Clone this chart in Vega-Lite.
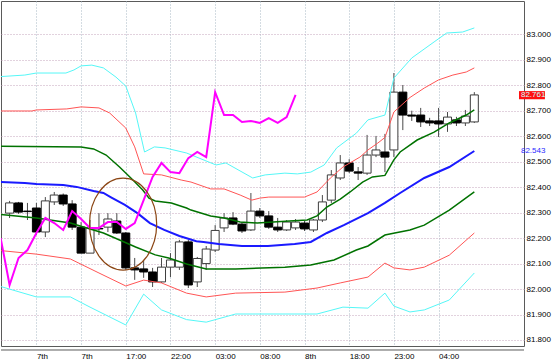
{
  "$schema": "https://vega.github.io/schema/vega-lite/v6.json",
  "width": 523,
  "height": 345,
  "autosize": {"type": "none"},
  "padding": {"left": 1, "top": 1, "right": 30, "bottom": 16},
  "background": "white",
  "config": {
    "view": {"stroke": "#5a5a5a", "strokeWidth": 1},
    "axis": {"labelFont": "Liberation Sans", "labelFontSize": 8, "labelColor": "#000000", "ticks": false, "domain": false, "gridDash": [1, 2], "gridWidth": 1, "labelOverlap": false, "labelFlush": false}
  },
  "datasets": {
    "candles": [
      {"t": -3, "open": 82.298, "high": 82.346, "low": 82.279, "close": 82.338},
      {"t": -2, "open": 82.338, "high": 82.342, "low": 82.295, "close": 82.302},
      {"t": -1, "open": 82.306, "high": 82.338, "low": 82.271, "close": 82.304},
      {"t": 0, "open": 82.318, "high": 82.338, "low": 82.212, "close": 82.224},
      {"t": 1, "open": 82.224, "high": 82.361, "low": 82.204, "close": 82.346},
      {"t": 2, "open": 82.342, "high": 82.381, "low": 82.330, "close": 82.369},
      {"t": 3, "open": 82.369, "high": 82.375, "low": 82.326, "close": 82.334},
      {"t": 4, "open": 82.334, "high": 82.349, "low": 82.232, "close": 82.243},
      {"t": 5, "open": 82.243, "high": 82.263, "low": 82.141, "close": 82.141},
      {"t": 6, "open": 82.141, "high": 82.271, "low": 82.141, "close": 82.240},
      {"t": 7, "open": 82.238, "high": 82.298, "low": 82.212, "close": 82.236},
      {"t": 8, "open": 82.243, "high": 82.298, "low": 82.224, "close": 82.275},
      {"t": 9, "open": 82.267, "high": 82.298, "low": 82.216, "close": 82.220},
      {"t": 10, "open": 82.220, "high": 82.224, "low": 82.075, "close": 82.083},
      {"t": 11, "open": 82.083, "high": 82.122, "low": 82.036, "close": 82.075},
      {"t": 12, "open": 82.079, "high": 82.114, "low": 82.044, "close": 82.067},
      {"t": 13, "open": 82.067, "high": 82.083, "low": 82.008, "close": 82.028},
      {"t": 14, "open": 82.028, "high": 82.122, "low": 82.024, "close": 82.086},
      {"t": 15, "open": 82.086, "high": 82.141, "low": 82.047, "close": 82.114},
      {"t": 16, "open": 82.086, "high": 82.193, "low": 82.075, "close": 82.185},
      {"t": 17, "open": 82.185, "high": 82.193, "low": 82.004, "close": 82.016},
      {"t": 18, "open": 82.028, "high": 82.126, "low": 82.008, "close": 82.120},
      {"t": 19, "open": 82.100, "high": 82.169, "low": 82.075, "close": 82.157},
      {"t": 20, "open": 82.153, "high": 82.251, "low": 82.145, "close": 82.230},
      {"t": 21, "open": 82.240, "high": 82.298, "low": 82.224, "close": 82.279},
      {"t": 22, "open": 82.279, "high": 82.302, "low": 82.251, "close": 82.255},
      {"t": 23, "open": 82.255, "high": 82.263, "low": 82.220, "close": 82.228},
      {"t": 24, "open": 82.232, "high": 82.377, "low": 82.228, "close": 82.306},
      {"t": 25, "open": 82.306, "high": 82.318, "low": 82.279, "close": 82.287},
      {"t": 26, "open": 82.287, "high": 82.306, "low": 82.236, "close": 82.243},
      {"t": 27, "open": 82.243, "high": 82.279, "low": 82.224, "close": 82.232},
      {"t": 28, "open": 82.232, "high": 82.271, "low": 82.228, "close": 82.263},
      {"t": 29, "open": 82.240, "high": 82.275, "low": 82.232, "close": 82.263},
      {"t": 30, "open": 82.259, "high": 82.267, "low": 82.228, "close": 82.236},
      {"t": 31, "open": 82.232, "high": 82.275, "low": 82.224, "close": 82.271},
      {"t": 32, "open": 82.271, "high": 82.369, "low": 82.263, "close": 82.342},
      {"t": 33, "open": 82.349, "high": 82.467, "low": 82.338, "close": 82.448},
      {"t": 34, "open": 82.436, "high": 82.526, "low": 82.428, "close": 82.495},
      {"t": 35, "open": 82.495, "high": 82.510, "low": 82.455, "close": 82.463},
      {"t": 36, "open": 82.460, "high": 82.479, "low": 82.428, "close": 82.455},
      {"t": 37, "open": 82.455, "high": 82.605, "low": 82.448, "close": 82.526},
      {"t": 38, "open": 82.526, "high": 82.601, "low": 82.518, "close": 82.546},
      {"t": 39, "open": 82.538, "high": 82.609, "low": 82.459, "close": 82.518},
      {"t": 40, "open": 82.546, "high": 82.848, "low": 82.518, "close": 82.773},
      {"t": 41, "open": 82.773, "high": 82.801, "low": 82.624, "close": 82.683},
      {"t": 42, "open": 82.683, "high": 82.700, "low": 82.660, "close": 82.679},
      {"t": 43, "open": 82.683, "high": 82.711, "low": 82.636, "close": 82.656},
      {"t": 44, "open": 82.660, "high": 82.672, "low": 82.640, "close": 82.652},
      {"t": 45, "open": 82.660, "high": 82.711, "low": 82.597, "close": 82.648},
      {"t": 46, "open": 82.648, "high": 82.695, "low": 82.617, "close": 82.675},
      {"t": 47, "open": 82.664, "high": 82.676, "low": 82.640, "close": 82.652},
      {"t": 48, "open": 82.652, "high": 82.703, "low": 82.640, "close": 82.679},
      {"t": 49, "open": 82.656, "high": 82.773, "low": 82.652, "close": 82.762}
    ],
    "thin": [
      {"s": "u3", "t": -4, "v": 82.834}, {"s": "u3", "t": -1.3, "v": 82.840}, {"s": "u3", "t": 0, "v": 82.848}, {"s": "u3", "t": 3.3, "v": 82.848}, {"s": "u3", "t": 4.2, "v": 82.860}, {"s": "u3", "t": 5, "v": 82.876}, {"s": "u3", "t": 6.2, "v": 82.879}, {"s": "u3", "t": 7.5, "v": 82.868}, {"s": "u3", "t": 8.9, "v": 82.832}, {"s": "u3", "t": 10, "v": 82.797}, {"s": "u3", "t": 11.1, "v": 82.691}, {"s": "u3", "t": 12.1, "v": 82.538}, {"s": "u3", "t": 13.2, "v": 82.558}, {"s": "u3", "t": 14.4, "v": 82.554}, {"s": "u3", "t": 16.8, "v": 82.534}, {"s": "u3", "t": 20.1, "v": 82.487}, {"s": "u3", "t": 21.2, "v": 82.495}, {"s": "u3", "t": 24.2, "v": 82.436}, {"s": "u3", "t": 25.6, "v": 82.448}, {"s": "u3", "t": 27.8, "v": 82.455}, {"s": "u3", "t": 29.2, "v": 82.452}, {"s": "u3", "t": 30.7, "v": 82.459}, {"s": "u3", "t": 32.2, "v": 82.487}, {"s": "u3", "t": 33.6, "v": 82.554}, {"s": "u3", "t": 35.8, "v": 82.612}, {"s": "u3", "t": 37.1, "v": 82.664}, {"s": "u3", "t": 39, "v": 82.683}, {"s": "u3", "t": 40, "v": 82.828}, {"s": "u3", "t": 42, "v": 82.907}, {"s": "u3", "t": 44.5, "v": 82.970}, {"s": "u3", "t": 45.9, "v": 83.005}, {"s": "u3", "t": 47.7, "v": 83.009}, {"s": "u3", "t": 49, "v": 83.025},
      {"s": "u2", "t": -4, "v": 82.699}, {"s": "u2", "t": -0.5, "v": 82.699}, {"s": "u2", "t": 0, "v": 82.703}, {"s": "u2", "t": 3.4, "v": 82.707}, {"s": "u2", "t": 5, "v": 82.715}, {"s": "u2", "t": 7, "v": 82.711}, {"s": "u2", "t": 8.2, "v": 82.691}, {"s": "u2", "t": 10, "v": 82.632}, {"s": "u2", "t": 11, "v": 82.558}, {"s": "u2", "t": 12, "v": 82.452}, {"s": "u2", "t": 14, "v": 82.448}, {"s": "u2", "t": 16.2, "v": 82.428}, {"s": "u2", "t": 17.3, "v": 82.420}, {"s": "u2", "t": 19.5, "v": 82.393}, {"s": "u2", "t": 21, "v": 82.393}, {"s": "u2", "t": 22.8, "v": 82.369}, {"s": "u2", "t": 24.1, "v": 82.349}, {"s": "u2", "t": 25, "v": 82.357}, {"s": "u2", "t": 26, "v": 82.361}, {"s": "u2", "t": 30, "v": 82.361}, {"s": "u2", "t": 31.4, "v": 82.381}, {"s": "u2", "t": 32.9, "v": 82.436}, {"s": "u2", "t": 34.3, "v": 82.479}, {"s": "u2", "t": 36.2, "v": 82.518}, {"s": "u2", "t": 37.1, "v": 82.546}, {"s": "u2", "t": 38.2, "v": 82.573}, {"s": "u2", "t": 39, "v": 82.595}, {"s": "u2", "t": 40, "v": 82.695}, {"s": "u2", "t": 41.8, "v": 82.752}, {"s": "u2", "t": 43.4, "v": 82.789}, {"s": "u2", "t": 45, "v": 82.821}, {"s": "u2", "t": 46.6, "v": 82.840}, {"s": "u2", "t": 48.1, "v": 82.852}, {"s": "u2", "t": 49, "v": 82.868},
      {"s": "l2", "t": -4, "v": 82.151}, {"s": "l2", "t": 0, "v": 82.137}, {"s": "l2", "t": 3.8, "v": 82.118}, {"s": "l2", "t": 7, "v": 82.063}, {"s": "l2", "t": 10, "v": 82.012}, {"s": "l2", "t": 12, "v": 82.035}, {"s": "l2", "t": 14, "v": 82.024}, {"s": "l2", "t": 16.8, "v": 81.984}, {"s": "l2", "t": 19, "v": 81.969}, {"s": "l2", "t": 22.3, "v": 81.984}, {"s": "l2", "t": 27.8, "v": 81.988}, {"s": "l2", "t": 31.4, "v": 82.004}, {"s": "l2", "t": 34, "v": 82.024}, {"s": "l2", "t": 37.1, "v": 82.047}, {"s": "l2", "t": 39, "v": 82.102}, {"s": "l2", "t": 40, "v": 82.083}, {"s": "l2", "t": 41.8, "v": 82.075}, {"s": "l2", "t": 43.4, "v": 82.086}, {"s": "l2", "t": 46.2, "v": 82.133}, {"s": "l2", "t": 49, "v": 82.220},
      {"s": "l3", "t": -4, "v": 82.010}, {"s": "l3", "t": 0, "v": 81.969}, {"s": "l3", "t": 3.8, "v": 81.969}, {"s": "l3", "t": 6, "v": 81.929}, {"s": "l3", "t": 10, "v": 81.859}, {"s": "l3", "t": 12, "v": 81.980}, {"s": "l3", "t": 14, "v": 81.918}, {"s": "l3", "t": 16.8, "v": 81.880}, {"s": "l3", "t": 19, "v": 81.870}, {"s": "l3", "t": 22.3, "v": 81.902}, {"s": "l3", "t": 31.4, "v": 81.902}, {"s": "l3", "t": 34.3, "v": 81.929}, {"s": "l3", "t": 37.1, "v": 81.925}, {"s": "l3", "t": 39, "v": 81.984}, {"s": "l3", "t": 40, "v": 81.933}, {"s": "l3", "t": 41.8, "v": 81.910}, {"s": "l3", "t": 43.4, "v": 81.918}, {"s": "l3", "t": 46.2, "v": 81.957}, {"s": "l3", "t": 49, "v": 82.063}
    ],
    "green": [
      {"s": "u1", "t": -4, "v": 82.561}, {"s": "u1", "t": 5, "v": 82.558}, {"s": "u1", "t": 6.4, "v": 82.550}, {"s": "u1", "t": 7.8, "v": 82.526}, {"s": "u1", "t": 9.3, "v": 82.479}, {"s": "u1", "t": 10.8, "v": 82.428}, {"s": "u1", "t": 11.9, "v": 82.389}, {"s": "u1", "t": 12.6, "v": 82.357}, {"s": "u1", "t": 13.3, "v": 82.346}, {"s": "u1", "t": 15.1, "v": 82.338}, {"s": "u1", "t": 16.8, "v": 82.318}, {"s": "u1", "t": 17.3, "v": 82.310}, {"s": "u1", "t": 19.5, "v": 82.287}, {"s": "u1", "t": 21, "v": 82.279}, {"s": "u1", "t": 22.8, "v": 82.263}, {"s": "u1", "t": 24.7, "v": 82.259}, {"s": "u1", "t": 28.3, "v": 82.267}, {"s": "u1", "t": 30.3, "v": 82.271}, {"s": "u1", "t": 31.4, "v": 82.287}, {"s": "u1", "t": 32.5, "v": 82.322}, {"s": "u1", "t": 34, "v": 82.353}, {"s": "u1", "t": 35.1, "v": 82.381}, {"s": "u1", "t": 36.5, "v": 82.420}, {"s": "u1", "t": 37.6, "v": 82.440}, {"s": "u1", "t": 39, "v": 82.446}, {"s": "u1", "t": 40, "v": 82.507}, {"s": "u1", "t": 40.7, "v": 82.538}, {"s": "u1", "t": 42.6, "v": 82.585}, {"s": "u1", "t": 44.5, "v": 82.616}, {"s": "u1", "t": 46.2, "v": 82.652}, {"s": "u1", "t": 48.1, "v": 82.683}, {"s": "u1", "t": 49, "v": 82.703},
      {"s": "l1", "t": -4, "v": 82.293}, {"s": "l1", "t": 0, "v": 82.279}, {"s": "l1", "t": 3.8, "v": 82.259}, {"s": "l1", "t": 7.5, "v": 82.220}, {"s": "l1", "t": 11.1, "v": 82.165}, {"s": "l1", "t": 13.3, "v": 82.134}, {"s": "l1", "t": 14.8, "v": 82.122}, {"s": "l1", "t": 16.8, "v": 82.098}, {"s": "l1", "t": 19, "v": 82.079}, {"s": "l1", "t": 22.3, "v": 82.079}, {"s": "l1", "t": 27.8, "v": 82.086}, {"s": "l1", "t": 30.7, "v": 82.094}, {"s": "l1", "t": 33.3, "v": 82.114}, {"s": "l1", "t": 35.8, "v": 82.153}, {"s": "l1", "t": 37.1, "v": 82.169}, {"s": "l1", "t": 39, "v": 82.212}, {"s": "l1", "t": 40.1, "v": 82.220}, {"s": "l1", "t": 41.8, "v": 82.232}, {"s": "l1", "t": 43.4, "v": 82.251}, {"s": "l1", "t": 46.2, "v": 82.310}, {"s": "l1", "t": 49, "v": 82.381}
    ],
    "mid": [
      {"s": "mid", "t": -4, "v": 82.420}, {"s": "mid", "t": -1.3, "v": 82.416}, {"s": "mid", "t": 0, "v": 82.412}, {"s": "mid", "t": 3, "v": 82.408}, {"s": "mid", "t": 4.5, "v": 82.401}, {"s": "mid", "t": 6.4, "v": 82.385}, {"s": "mid", "t": 7.5, "v": 82.377}, {"s": "mid", "t": 8.3, "v": 82.361}, {"s": "mid", "t": 9.9, "v": 82.330}, {"s": "mid", "t": 11.3, "v": 82.298}, {"s": "mid", "t": 12.7, "v": 82.259}, {"s": "mid", "t": 14.3, "v": 82.232}, {"s": "mid", "t": 16, "v": 82.208}, {"s": "mid", "t": 17.9, "v": 82.188}, {"s": "mid", "t": 18.7, "v": 82.185}, {"s": "mid", "t": 20.4, "v": 82.177}, {"s": "mid", "t": 23, "v": 82.169}, {"s": "mid", "t": 25.9, "v": 82.169}, {"s": "mid", "t": 28.9, "v": 82.177}, {"s": "mid", "t": 30.7, "v": 82.185}, {"s": "mid", "t": 32.5, "v": 82.220}, {"s": "mid", "t": 34.4, "v": 82.251}, {"s": "mid", "t": 37.1, "v": 82.298}, {"s": "mid", "t": 39, "v": 82.338}, {"s": "mid", "t": 40.7, "v": 82.377}, {"s": "mid", "t": 43.4, "v": 82.436}, {"s": "mid", "t": 46.2, "v": 82.479}, {"s": "mid", "t": 49, "v": 82.542}
    ],
    "chikou": [
      {"s": "chikou", "t": -4, "v": 82.200}, {"s": "chikou", "t": -3, "v": 82.016}, {"s": "chikou", "t": -2, "v": 82.122}, {"s": "chikou", "t": -1, "v": 82.153}, {"s": "chikou", "t": 0, "v": 82.220}, {"s": "chikou", "t": 1, "v": 82.279}, {"s": "chikou", "t": 2, "v": 82.259}, {"s": "chikou", "t": 3, "v": 82.232}, {"s": "chikou", "t": 4, "v": 82.306}, {"s": "chikou", "t": 5, "v": 82.275}, {"s": "chikou", "t": 6, "v": 82.240}, {"s": "chikou", "t": 7, "v": 82.240}, {"s": "chikou", "t": 8, "v": 82.263}, {"s": "chikou", "t": 9, "v": 82.263}, {"s": "chikou", "t": 10, "v": 82.236}, {"s": "chikou", "t": 11, "v": 82.259}, {"s": "chikou", "t": 12, "v": 82.349}, {"s": "chikou", "t": 13, "v": 82.440}, {"s": "chikou", "t": 14, "v": 82.495}, {"s": "chikou", "t": 15, "v": 82.459}, {"s": "chikou", "t": 16, "v": 82.455}, {"s": "chikou", "t": 17, "v": 82.514}, {"s": "chikou", "t": 18, "v": 82.538}, {"s": "chikou", "t": 19, "v": 82.518}, {"s": "chikou", "t": 20, "v": 82.773}, {"s": "chikou", "t": 21, "v": 82.683}, {"s": "chikou", "t": 22, "v": 82.683}, {"s": "chikou", "t": 23, "v": 82.656}, {"s": "chikou", "t": 24, "v": 82.660}, {"s": "chikou", "t": 25, "v": 82.652}, {"s": "chikou", "t": 26, "v": 82.671}, {"s": "chikou", "t": 27, "v": 82.652}, {"s": "chikou", "t": 28, "v": 82.675}, {"s": "chikou", "t": 29, "v": 82.762}
    ],
    "one": [{}]
  },
  "layer": [
    {
      "data": {"name": "candles"},
      "mark": {"type": "rule", "color": "#4a4a4a", "strokeWidth": 1, "clip": true},
      "encoding": {
        "x": {"field": "t", "type": "quantitative", "title": null,
          "scale": {"domain": [-3.402, 54.0], "nice": false, "zero": false},
          "axis": {"orient": "bottom", "values": [0, 5, 10, 15, 20, 25, 30, 35, 40, 45], "tickCount": 30,
            "labelExpr": "['7th','7th','17:00','22:00','03:00','08:00','8th','18:00','23:00','04:00'][round(datum.value/5)]",
            "labelAlign": "left", "labelBaseline": "top", "labelPadding": 6, "grid": true, "gridColor": "#a8b8c4",
            "labelFlush": false, "labelOverlap": false}},
        "y": {"field": "low", "type": "quantitative", "title": null,
          "scale": {"domain": [81.7764, 83.1307], "nice": false, "zero": false},
          "axis": {"orient": "right", "values": [81.8, 81.9, 82.0, 82.1, 82.2, 82.3, 82.4, 82.5, 82.6, 82.7, 82.8, 82.9, 83.0], "tickCount": 30,
            "format": ".3f", "labelPadding": 2, "grid": true, "gridColor": "#c4a4bc", "labelFlush": false, "labelOverlap": false, "labelBaseline": "middle"}},
        "y2": {"field": "high"}
      }
    },
    {
      "data": {"name": "candles"},
      "mark": {"type": "bar", "size": 8, "strokeWidth": 1, "clip": true},
      "encoding": {
        "x": {"field": "t", "type": "quantitative", "title": null},
        "y": {"field": "open", "type": "quantitative", "title": null},
        "y2": {"field": "close"},
        "fill": {"condition": {"test": "datum.close >= datum.open", "value": "#ffffff"}, "value": "#000000"},
        "stroke": {"condition": {"test": "datum.close >= datum.open", "value": "#3c3c3c"}, "value": "#000000"}
      }
    },
    {
      "data": {"name": "thin"},
      "mark": {"type": "line", "strokeWidth": 1, "clip": true},
      "encoding": {
        "x": {"field": "t", "type": "quantitative", "title": null},
        "y": {"field": "v", "type": "quantitative", "title": null},
        "color": {"field": "s", "type": "nominal", "legend": null,
          "scale": {"domain": ["u3", "u2", "u1", "mid", "l1", "l2", "l3", "chikou"], "range": ["#55f7f7", "#ff5555", "#007200", "#1a1aff", "#007200", "#ff5555", "#55f7f7", "#ff00ff"]}}
      }
    },
    {
      "data": {"name": "green"},
      "mark": {"type": "line", "strokeWidth": 1.5, "clip": true},
      "encoding": {
        "x": {"field": "t", "type": "quantitative", "title": null},
        "y": {"field": "v", "type": "quantitative", "title": null},
        "color": {"field": "s", "type": "nominal", "legend": null}
      }
    },
    {
      "data": {"name": "mid"},
      "mark": {"type": "line", "strokeWidth": 2, "clip": true},
      "encoding": {
        "x": {"field": "t", "type": "quantitative", "title": null},
        "y": {"field": "v", "type": "quantitative", "title": null},
        "color": {"field": "s", "type": "nominal", "legend": null}
      }
    },
    {
      "data": {"name": "chikou"},
      "mark": {"type": "line", "strokeWidth": 2, "clip": true},
      "encoding": {
        "x": {"field": "t", "type": "quantitative", "title": null},
        "y": {"field": "v", "type": "quantitative", "title": null},
        "color": {"field": "s", "type": "nominal", "legend": null}
      }
    },
    {
      "data": {"values": [{"t": 9.7, "v": 82.255}]},
      "mark": {"type": "point", "shape": "M 0 -1 C 0.4027 -1 0.73 -0.5523 0.73 0 C 0.73 0.5523 0.4027 1 0 1 C -0.4027 1 -0.73 0.5523 -0.73 0 C -0.73 -0.5523 -0.4027 -1 0 -1 Z", "size": 8464, "filled": false, "color": "#8b4513", "strokeWidth": 1.2, "opacity": 1},
      "encoding": {
        "x": {"field": "t", "type": "quantitative", "title": null},
        "y": {"field": "v", "type": "quantitative", "title": null}
      }
    },
    {
      "data": {"name": "one"},
      "mark": {"type": "rule", "color": "#5a5a5a", "strokeWidth": 1},
      "encoding": {"y": {"datum": 81.7607, "type": "quantitative", "title": null}}
    },
    {
      "data": {"name": "one"},
      "mark": {"type": "rect", "color": "#ff1010"},
      "encoding": {
        "x": {"datum": 54.0, "type": "quantitative", "title": null},
        "x2": {"datum": 56.9},
        "y": {"datum": 82.745, "type": "quantitative", "title": null},
        "y2": {"datum": 82.777}
      }
    },
    {
      "data": {"values": [{"t": 54.22, "v": 82.761, "label": "82.761"}]},
      "mark": {"type": "text", "align": "left", "baseline": "middle", "font": "Liberation Sans", "fontSize": 8, "color": "#c8ffff"},
      "encoding": {
        "x": {"field": "t", "type": "quantitative", "title": null},
        "y": {"field": "v", "type": "quantitative", "title": null},
        "text": {"field": "label"}
      }
    },
    {
      "data": {"values": [{"t": 54.22, "v": 82.543, "label": "82.543"}]},
      "mark": {"type": "text", "align": "left", "baseline": "middle", "font": "Liberation Sans", "fontSize": 8, "color": "#2a2aff"},
      "encoding": {
        "x": {"field": "t", "type": "quantitative", "title": null},
        "y": {"field": "v", "type": "quantitative", "title": null},
        "text": {"field": "label"}
      }
    }
  ]
}
